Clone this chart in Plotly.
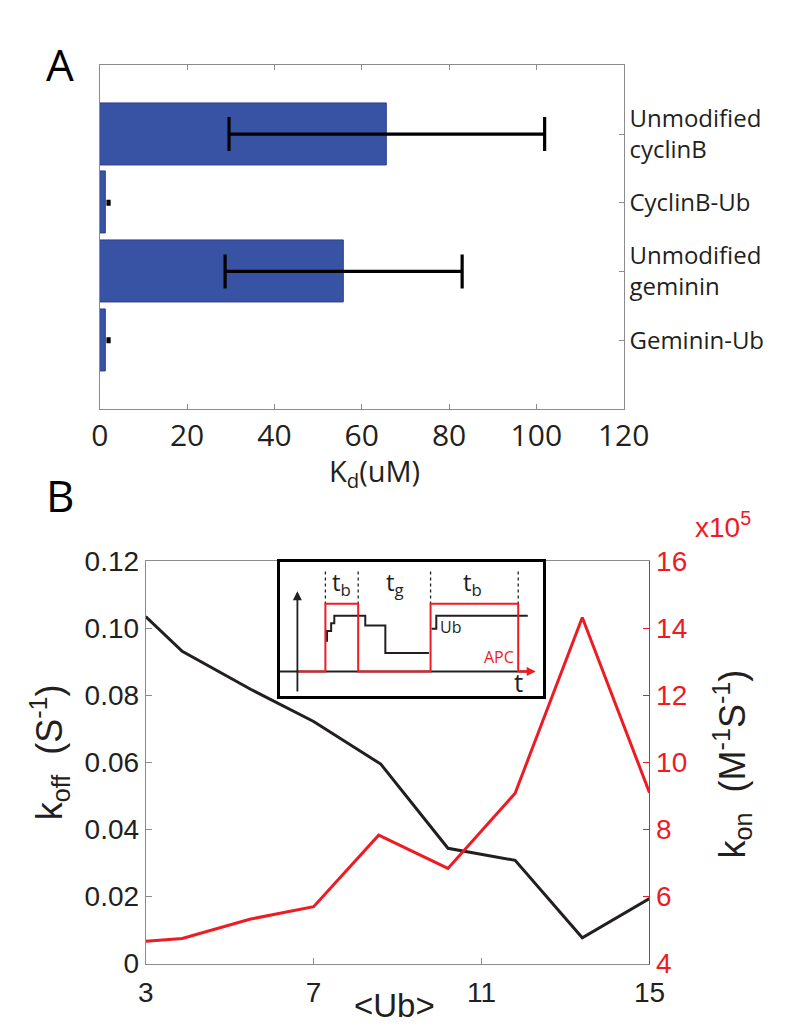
import plotly.graph_objects as go

W, H = 794, 1034

# ---------------- Panel A data ----------------
categories = ["Unmodified<br>cyclinB", "CyclinB-Ub", "Unmodified<br>geminin", "Geminin-Ub"]
cat_pos = [1, 2, 3, 4]
kd_mean = [65.8, 1.4, 56.0, 1.4]
kd_err_center = [65.8, 2.0, 56.0, 2.0]
kd_err_low = [29.6, 1.8, 28.7, 1.8]
kd_err_high = [101.9, 2.2, 83.0, 2.2]
kd_ticks = [0, 20, 40, 60, 80, 100, 120]

# ---------------- Panel B data ----------------
ub_koff = [3.0, 3.87, 5.5, 7.0, 8.6, 10.2, 11.8, 13.4, 15.0]
koff = [0.1035, 0.0931, 0.0818, 0.0722, 0.0595, 0.0344, 0.0308, 0.0077, 0.0194]
ub_kon = [3.0, 3.87, 5.5, 7.0, 8.55, 10.2, 11.8, 13.4, 15.0]
kon = [4.67, 4.75, 5.33, 5.70, 7.83, 6.84, 9.08, 14.32, 9.10]
ub_ticks = [3, 7, 11, 15]
koff_ticks = [0, 0.02, 0.04, 0.06, 0.08, 0.10, 0.12]
koff_ticktext = ["0", "0.02", "0.04", "0.06", "0.08", "0.10", "0.12"]
kon_ticks = [4, 6, 8, 10, 12, 14, 16]

# ---------------- Inset schematic (inset units) ----------------
apc_x = [18.7, 48, 48, 82.3, 82.3, 158, 158, 249.7, 249.7, 262]
apc_y = [112.7, 112.7, 43, 43, 112.7, 112.7, 43, 43, 112.7, 112.7]
ub1_x = [49.7, 49.7, 54, 54, 57.3, 57.3, 89.7, 89.7, 110.7, 110.7, 156.3]
ub1_y = [82, 71, 71, 63, 63, 55.3, 55.3, 65.3, 65.3, 93.7, 93.7]
ub2_x = [159, 164, 164, 259.7]
ub2_y = [68.7, 68.7, 55.3, 55.3]
baseline_x = [0, 262]
baseline_y = [112.7, 112.7]
dots_x = [48, 82.3, 158, 249.7]
dots_top = 9.7
dots_bottom = 43
inset_labels = ["t<sub>b</sub>", "t<sub>g</sub>", "t<sub>b</sub>"]
inset_label_x = [65, 121, 202]

RED = "#ED1C24"
BLACK = "#231F20"
BLUE = "#3953A4"
GREY = "#8C8C8C"


def dx(px0, px1):
    return [px0 / W, px1 / W]


def dy(top, bottom):
    return [1 - bottom / H, 1 - top / H]


fig = go.Figure()

# Panel A bars
fig.add_trace(go.Bar(
    x=kd_mean, y=cat_pos, orientation="h", width=0.9,
    marker=dict(color=BLUE, line=dict(color="#2B3F8C", width=1)),
    xaxis="x", yaxis="y", showlegend=False,
))
big = [0, 2]
small = [1, 3]
fig.add_trace(go.Scatter(
    x=[kd_err_center[i] for i in big], y=[cat_pos[i] for i in big], mode="markers",
    marker=dict(size=1, color=BLACK),
    error_x=dict(type="data", symmetric=False,
                 array=[kd_err_high[i] - kd_err_center[i] for i in big],
                 arrayminus=[kd_err_center[i] - kd_err_low[i] for i in big],
                 color="black", thickness=3.2, width=17),
    xaxis="x", yaxis="y", showlegend=False,
))
fig.add_trace(go.Scatter(
    x=[kd_err_center[i] for i in small], y=[cat_pos[i] for i in small], mode="markers",
    marker=dict(size=1, color=BLACK),
    error_x=dict(type="data", symmetric=False,
                 array=[kd_err_high[i] - kd_err_center[i] for i in small],
                 arrayminus=[kd_err_center[i] - kd_err_low[i] for i in small],
                 color="black", thickness=2.5, width=3),
    xaxis="x", yaxis="y", showlegend=False,
))

# Panel B lines
fig.add_trace(go.Scatter(
    x=ub_koff, y=koff, mode="lines", line=dict(color=BLACK, width=3),
    xaxis="x2", yaxis="y2", showlegend=False,
))
fig.add_trace(go.Scatter(
    x=ub_kon, y=kon, mode="lines", line=dict(color=RED, width=3),
    xaxis="x2", yaxis="y3", showlegend=False,
))

# Inset
fig.add_trace(go.Scatter(x=baseline_x, y=baseline_y, mode="lines",
                         line=dict(color=BLACK, width=2), xaxis="x4", yaxis="y4", showlegend=False))
for xd in dots_x:
    fig.add_trace(go.Scatter(x=[xd, xd], y=[dots_top, dots_bottom], mode="lines",
                             line=dict(color=BLACK, width=1.3, dash="dot"),
                             xaxis="x4", yaxis="y4", showlegend=False))
fig.add_trace(go.Scatter(x=ub1_x, y=ub1_y, mode="lines", line=dict(color=BLACK, width=2),
                         xaxis="x4", yaxis="y4", showlegend=False))
fig.add_trace(go.Scatter(x=ub2_x, y=ub2_y, mode="lines", line=dict(color=BLACK, width=2),
                         xaxis="x4", yaxis="y4", showlegend=False))
fig.add_trace(go.Scatter(x=apc_x, y=apc_y, mode="lines", line=dict(color=RED, width=2),
                         xaxis="x4", yaxis="y4", showlegend=False))

fontA = "Open Sans"
fontB = "Liberation Sans"

annotations = [
    dict(text="A", x=37 / W, y=1 - 18 / H, xref="paper", yref="paper", xanchor="left", yanchor="top",
         showarrow=False, font=dict(family=fontA, size=44, color="black")),
    dict(text="B", x=37 / W, y=1 - 462 / H, xref="paper", yref="paper", xanchor="left", yanchor="top",
         showarrow=False, font=dict(family=fontA, size=44, color="black")),
    dict(text="K<sub>d</sub>(uM)", x=382 / W, y=1 - 472 / H, xref="paper", yref="paper",
         xanchor="center", yanchor="middle", showarrow=False,
         font=dict(family=fontA, size=29, color=BLACK)),
    dict(text="k<sub>off</sub>  (S<sup>-1</sup>)", x=42 / W, y=1 - 760 / H, xref="paper", yref="paper",
         xanchor="center", yanchor="middle", textangle=-90, showarrow=False,
         font=dict(family=fontB, size=36, color=BLACK)),
    dict(text="k<sub>on</sub>  (M<sup>-1</sup>S<sup>-1</sup>)", x=757 / W, y=1 - 772 / H, xref="paper",
         yref="paper", xanchor="center", yanchor="middle", textangle=-90, showarrow=False,
         font=dict(family=fontB, size=36, color=BLACK)),
    dict(text="&lt;Ub&gt;", x=403 / W, y=1 - 1021 / H, xref="paper", yref="paper",
         xanchor="center", yanchor="middle", showarrow=False,
         font=dict(family=fontB, size=33, color=BLACK)),
    dict(text="x10<sup>5</sup>", x=716 / W, y=1 - 546 / H, xref="paper", yref="paper",
         xanchor="left", yanchor="bottom", showarrow=False,
         font=dict(family=fontB, size=28, color=RED)),
    # inset arrows
    dict(x=18.7, y=30, ax=18.7, ay=135, xref="x4", yref="y4", axref="x4", ayref="y4",
         showarrow=True, arrowhead=2, arrowsize=1, arrowwidth=1.8, arrowcolor=BLACK, text=""),
    dict(x=268, y=112.7, ax=250, ay=112.7, xref="x4", yref="y4", axref="x4", ayref="y4",
         showarrow=True, arrowhead=2, arrowsize=1, arrowwidth=1.8, arrowcolor=RED, text=""),
    dict(text="Ub", x=166, y=67, xref="x4", yref="y4", xanchor="left", yanchor="middle",
         showarrow=False, font=dict(family=fontA, size=16, color=BLACK)),
    dict(text="APC", x=229.7, y=98, xref="x4", yref="y4", xanchor="center", yanchor="middle",
         showarrow=False, font=dict(family=fontA, size=16, color=RED)),
    dict(text="t", x=249.7, y=124, xref="x4", yref="y4", xanchor="center", yanchor="middle",
         showarrow=False, font=dict(family=fontA, size=26, color=BLACK)),
]
for lab, lx in zip(inset_labels, inset_label_x):
    annotations.append(dict(text=lab, x=lx, y=22, xref="x4", yref="y4", xanchor="center",
                            yanchor="middle", showarrow=False,
                            font=dict(family=fontA, size=24, color=BLACK)))

fig.update_layout(
    width=W, height=H,
    margin=dict(l=0, r=0, t=0, b=0),
    paper_bgcolor="white", plot_bgcolor="white",
    showlegend=False,
    bargap=0,
    xaxis=dict(domain=dx(95, 643), range=[0, 120], tickvals=kd_ticks,
               showline=True, linecolor=GREY, linewidth=1, mirror="ticks",
               ticks="inside", ticklen=5, tickcolor=GREY, showgrid=False, zeroline=False,
               tickfont=dict(family=fontA, size=30, color=BLACK), anchor="y"),
    yaxis=dict(domain=dy(52, 406), range=[5, 0], tickvals=cat_pos, ticktext=categories,
               side="right", showline=True, linecolor=GREY, linewidth=1, mirror=True,
               ticks="inside", ticklen=5, tickcolor=GREY, showgrid=False, zeroline=False,
               tickfont=dict(family=fontA, size=24, color=BLACK), anchor="x"),
    xaxis2=dict(domain=dx(143, 670), range=[3, 15], tickvals=ub_ticks,
                showline=True, linecolor=GREY, linewidth=1, mirror="ticks",
                ticks="inside", ticklen=6, tickcolor=GREY, showgrid=False, zeroline=False,
                ticklabelstandoff=4,
                tickfont=dict(family=fontB, size=28, color=BLACK), anchor="y2"),
    yaxis2=dict(domain=dy(563, 978), range=[0, 0.12], tickvals=koff_ticks, ticktext=koff_ticktext,
                showline=True, linecolor=GREY, linewidth=1,
                ticks="inside", ticklen=6, tickcolor=GREY, showgrid=False, zeroline=False,
                tickfont=dict(family=fontB, size=28, color=BLACK), anchor="x2"),
    yaxis3=dict(overlaying="y2", side="right", range=[4, 16], tickvals=kon_ticks,
                showline=True, linecolor=RED, linewidth=1,
                ticks="inside", ticklen=6, tickcolor=RED, showgrid=False, zeroline=False,
                tickfont=dict(family=fontB, size=28, color=RED), anchor="x2"),
    xaxis4=dict(domain=dx(283, 559), range=[0, 276], showline=True, linecolor="black", linewidth=3,
                mirror=True, showticklabels=False, ticks="", showgrid=False, zeroline=False, anchor="y4"),
    yaxis4=dict(domain=dy(564, 702), range=[138, 0], showline=True, linecolor="black", linewidth=3,
                mirror=True, showticklabels=False, ticks="", showgrid=False, zeroline=False, anchor="x4"),
    annotations=annotations,
)

fig.write_html(
    "out.html",
    config={"displayModeBar": False},
    post_script="document.body.style.margin='0';document.body.style.overflow='hidden';"
                "document.documentElement.style.overflow='hidden';",
)
